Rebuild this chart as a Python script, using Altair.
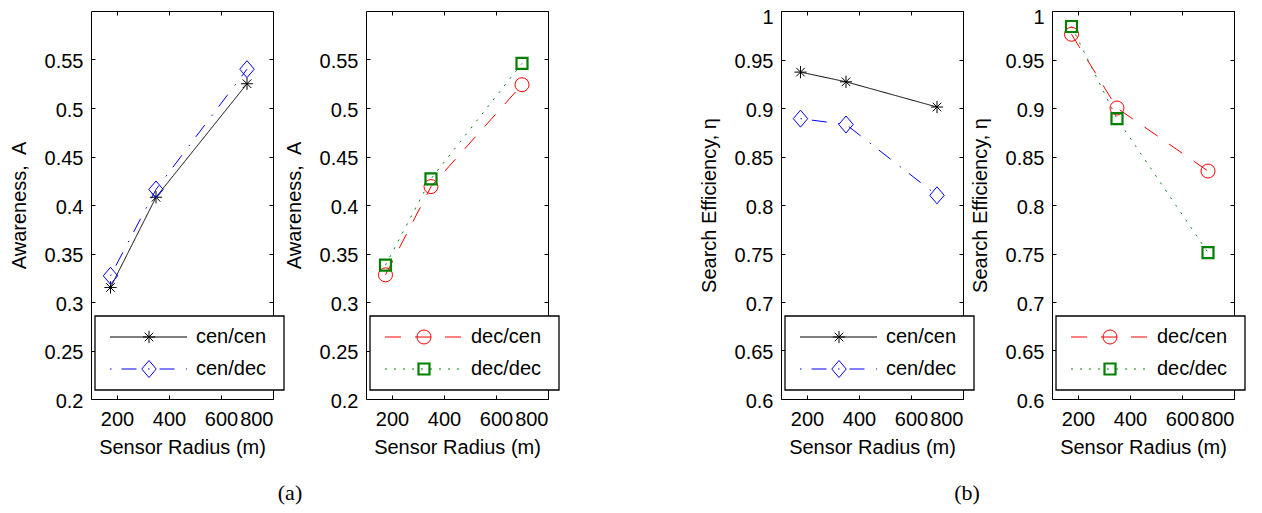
import altair as alt
import pandas as pd

radius = [175, 350, 700]

aw_cencen = [0.315, 0.408, 0.525]
aw_cendec = [0.327, 0.416, 0.540]
aw_deccen = [0.328, 0.419, 0.524]
aw_decdec = [0.338, 0.427, 0.546]

se_cencen = [0.937, 0.927, 0.901]
se_cendec = [0.889, 0.883, 0.810]
se_deccen = [0.976, 0.900, 0.835]
se_decdec = [0.984, 0.889, 0.751]

x_ticks = [200, 400, 600, 800]
aw_ticks = [0.2, 0.25, 0.3, 0.35, 0.4, 0.45, 0.5, 0.55]
se_ticks = [0.6, 0.65, 0.7, 0.75, 0.8, 0.85, 0.9, 0.95, 1.0]

FONT = "Liberation Sans"
SERIF = "Liberation Serif"
W, H = 182, 388

STAR = "M-1,0L1,0M0,-1L0,1M-0.7,-0.7L0.7,0.7M-0.7,0.7L0.7,-0.7"
DIAMOND = "M0,-1L0.85,0L0,1L-0.85,0Z"

STYLE = {
    "cen/cen": dict(color="#000000", dash=[1, 0], shape=STAR, size=150, sw=1),
    "cen/dec": dict(color="#0000ff", dash=[1.5, 10, 15, 11.5], shape=DIAMOND, size=289, sw=1),
    "dec/cen": dict(color="#ff0000", dash=[16, 14], shape="circle", size=196, sw=1),
    "dec/dec": dict(color="#008000", dash=[2, 7], shape="square", size=121, sw=2.2),
}

one = pd.DataFrame({"a": [0]})


def panel(series, ytitle, ydomain, yticks, caption=None, cap_x=0):
    xs = alt.Scale(domain=[100, 800], nice=False, zero=False)
    ys = alt.Scale(domain=ydomain, nice=False, zero=False)
    layers = []
    first = True
    for name, vals in series:
        st = STYLE[name]
        df = pd.DataFrame({"x": radius, "y": vals, "series": name})
        if first:
            xa = alt.Axis(orient="bottom", values=x_ticks, offset=-4, tickSize=4,
                          labelPadding=10, title="Sensor Radius (m)", titlePadding=8)
            ya = alt.Axis(orient="left", values=yticks, offset=-4, tickSize=4,
                          labelPadding=8,
                          labelOffset={"condition": {"test": "datum.value >= 0.99",
                                                     "value": 6}, "value": 2},
                          format="~g", title=ytitle, titlePadding=15)
            first = False
        else:
            xa = None
            ya = None
        line = alt.Chart(df).mark_line(color=st["color"], strokeDash=st["dash"],
                                       strokeWidth=1).encode(
            x=alt.X("x:Q", scale=xs, axis=xa),
            y=alt.Y("y:Q", scale=ys, axis=ya),
        )
        layers.append(line)
    for name, vals in series:
        st = STYLE[name]
        df = pd.DataFrame({"x": radius, "y": vals, "series": name})
        pts = alt.Chart(df).mark_point(shape=st["shape"], size=st["size"],
                                       color=st["color"], filled=False,
                                       strokeWidth=st["sw"], opacity=1).encode(
            x=alt.X("x:Q", scale=xs, axis=None),
            y=alt.Y("y:Q", scale=ys, axis=None),
        )
        layers.append(pts)
    # mirrored inner ticks (top / right)
    df0 = pd.DataFrame({"x": radius, "y": series[0][1]})
    ticks = alt.Chart(df0).mark_point(opacity=0).encode(
        x=alt.X("x:Q", scale=xs,
                axis=alt.Axis(orient="top", values=x_ticks, offset=-4, tickSize=4,
                              labels=False, title=None)),
        y=alt.Y("y:Q", scale=ys,
                axis=alt.Axis(orient="right", values=yticks, offset=-4, tickSize=4,
                              labels=False, title=None)),
    )
    layers.append(ticks)
    # legend box
    layers.append(alt.Chart(one).mark_rect(fill="white", stroke="black",
                                           strokeWidth=1.3).encode(
        x=alt.value(4), x2=alt.value(193), y=alt.value(305), y2=alt.value(379)))
    for i, (name, vals) in enumerate(series):
        st = STYLE[name]
        ry = 326 + i * 32
        layers.append(alt.Chart(one).mark_rule(color=st["color"], strokeDash=st["dash"],
                                               strokeWidth=1).encode(
            x=alt.value(19), x2=alt.value(96), y=alt.value(ry)))
        layers.append(alt.Chart(one).mark_point(shape=st["shape"], size=st["size"],
                                                color=st["color"], filled=False,
                                                strokeWidth=st["sw"], opacity=1).encode(
            x=alt.value(58), y=alt.value(ry)))
        layers.append(alt.Chart(one).mark_text(text=name, font=FONT, fontSize=20,
                                               align="left", baseline="middle",
                                               color="black").encode(
            x=alt.value(105), y=alt.value(ry)))
    if caption:
        layers.append(alt.Chart(one).mark_text(text=caption, font=SERIF, fontSize=22,
                                               align="center", baseline="middle",
                                               color="black").encode(
            x=alt.value(cap_x), y=alt.value(482)))
    return alt.layer(*layers).resolve_axis(x="independent", y="independent").properties(
        width=W, height=H)


def spacer(w):
    return alt.Chart(one).mark_point(opacity=0).encode(
        x=alt.value(0), y=alt.value(0)
    ).properties(width=w, height=H, view=alt.ViewBackground(strokeOpacity=0))


p1 = panel([("cen/cen", aw_cencen), ("cen/dec", aw_cendec)], "Awareness,\u00a0 A",
           [0.2, 0.6], aw_ticks, "(a)", 199)
p2 = panel([("dec/cen", aw_deccen), ("dec/dec", aw_decdec)], "Awareness,\u00a0 A",
           [0.2, 0.6], aw_ticks)
p3 = panel([("cen/cen", se_cencen), ("cen/dec", se_cendec)], "Search Efficiency, \u03b7",
           [0.6, 1.0], se_ticks, "(b)", 186)
p4 = panel([("dec/cen", se_deccen), ("dec/dec", se_decdec)], "Search Efficiency, \u03b7",
           [0.6, 1.0], se_ticks)

chart = alt.hconcat(p1, spacer(93), p2, spacer(233), p3, spacer(89), p4,
                    spacing=0, bounds="flush").configure_view(
    stroke="black", strokeWidth=1
).configure_axis(
    labelFont=FONT, labelFontSize=20, labelColor="black",
    titleFont=FONT, titleFontSize=20, titleFontWeight="normal", titleColor="black",
    tickColor="black", tickWidth=1, domain=False, grid=False,
).properties(padding={"left": 0, "top": -2, "right": 0, "bottom": 0})

chart.save("out.html", embed_options={"renderer": "svg", "actions": False})
